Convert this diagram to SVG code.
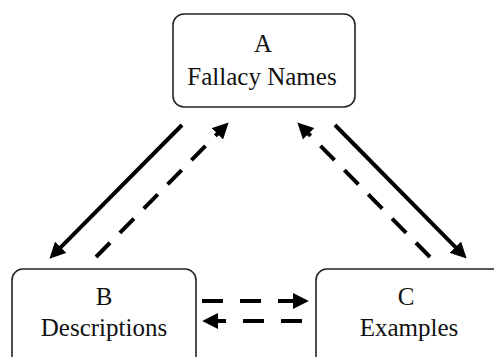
<svg xmlns="http://www.w3.org/2000/svg" width="494" height="357" viewBox="0 0 494 357">
<style>
.box{fill:#fff;stroke:#222;stroke-width:1.6}
.lbl{font-family:'Liberation Serif','Times New Roman',Times,'DejaVu Serif',serif;font-size:25px;fill:#111;text-anchor:middle}
.ln{fill:none;stroke:#000;stroke-width:4;stroke-linecap:butt}
.dash{stroke-dasharray:20 14}
.hdash{stroke-dasharray:21 17}
</style>
<defs>
<marker id="ah" markerUnits="userSpaceOnUse" markerWidth="16" markerHeight="16" viewBox="0 0 15 15" refX="2" refY="7.5" orient="auto">
<path d="M0,0 L15,7.5 L0,15 z" fill="#000"/>
</marker>
</defs>
<rect width="494" height="357" fill="#fff"/>
<g id="nodeA">
<rect class="box" x="173" y="14" width="182" height="93" rx="11"/>
<text class="lbl" x="263" y="52">A</text>
<text class="lbl" x="262" y="85">Fallacy Names</text>
</g>
<g id="nodeB">
<rect class="box" x="12" y="269" width="184" height="110" rx="11"/>
<text class="lbl" x="104" y="305">B</text>
<text class="lbl" x="104" y="336">Descriptions</text>
</g>
<g id="nodeC">
<rect class="box" x="316" y="269" width="190" height="110" rx="11"/>
<text class="lbl" x="406" y="305">C</text>
<text class="lbl" x="409" y="336">Examples</text>
</g>
<g id="connectors">
<line class="ln" x1="182" y1="125" x2="59.2" y2="248.8" marker-end="url(#ah)"/>
<line class="ln dash" x1="96" y1="257" x2="218.9" y2="132.3" marker-end="url(#ah)"/>
<line class="ln" x1="335" y1="125" x2="456.9" y2="248.7" marker-end="url(#ah)"/>
<line class="ln dash" x1="430" y1="257" x2="307.1" y2="132.3" marker-end="url(#ah)"/>
<line class="ln hdash" x1="202" y1="301" x2="295" y2="301" marker-end="url(#ah)"/>
<line class="ln hdash" x1="302" y1="321" x2="216" y2="321" marker-end="url(#ah)"/>
</g>
</svg>
